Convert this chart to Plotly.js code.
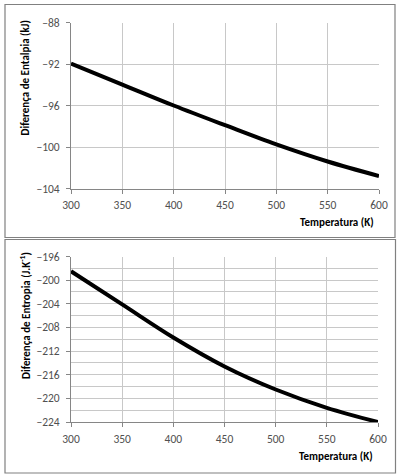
<!DOCTYPE html>
<html>
<head>
<meta charset="utf-8">
<script src="https://cdn.plot.ly/plotly-3.0.1.min.js"></script>
<style>html,body{margin:0;padding:0;background:#fff;}#chart{width:397px;height:476px;}</style>
</head>
<body>
<div id="chart"></div>
<script>
const temperatura = [300, 350, 400, 450, 500, 550, 600];
const entalpia = [-91.95, -93.98, -96.0, -97.9, -99.75, -101.4, -102.8];
const entropia = [-198.5, -204.1, -209.7, -214.6, -218.5, -221.6, -224.0];
const xTitle = 'Temperatura (K)';
const yTitleTop = 'Diferença de Entalpia (kJ)';
const yTitleBottom = 'Diferença de Entropia (J.K<sup>-1</sup>)';

const W = 397, H = 476;
const px = v => v / W;
const py = v => 1 - v / H;
const fam = 'Carlito, "Liberation Sans Narrow", "Liberation Sans", sans-serif';
const tickFont = {family: fam, size: 11.5, color: '#505050'};
const titleFont = {family: fam, size: 11, color: '#000', weight: 'bold'};
const gridC = '#c8c8c8';

const xBase = {
  range: [300, 600], dtick: 50, tick0: 300, showgrid: true, gridcolor: gridC, gridwidth: 1,
  showline: true, linecolor: '#868686', linewidth: 1, ticks: 'outside', ticklen: 4, tickcolor: '#868686',
  tickfont: tickFont, zeroline: false, fixedrange: true, ticklabelstandoff: 2
};
const yBase = {
  dtick: 4, showgrid: true, gridcolor: gridC, gridwidth: 1,
  showline: true, linecolor: '#868686', linewidth: 1, ticks: 'outside', ticklen: 4, tickcolor: '#868686',
  tickfont: tickFont, zeroline: false, fixedrange: true, ticklabelstandoff: 4
};

const traces = [
  {x: temperatura, y: entalpia, xaxis: 'x', yaxis: 'y', mode: 'lines', line: {color: '#000', width: 4, shape: 'spline'}, hoverinfo: 'skip'},
  {x: temperatura, y: entropia, xaxis: 'x2', yaxis: 'y2', mode: 'lines', line: {color: '#000', width: 4, shape: 'spline'}, hoverinfo: 'skip'}
];

const layout = {
  width: W, height: H, margin: {l: 0, r: 0, t: 0, b: 0}, showlegend: false,
  paper_bgcolor: '#fff', plot_bgcolor: '#fff',
  xaxis: Object.assign({}, xBase, {domain: [px(71), px(379)], anchor: 'y'}),
  yaxis: Object.assign({}, yBase, {range: [-104, -88], tick0: -88, domain: [py(188.5), py(22.5)], anchor: 'x'}),
  xaxis2: Object.assign({}, xBase, {domain: [px(71), px(378)], anchor: 'y2'}),
  yaxis2: Object.assign({}, yBase, {range: [-224, -196], tick0: -196, domain: [py(422), py(256.5)], anchor: 'x2',
    minor: {dtick: 2, tick0: -196, showgrid: true, gridcolor: gridC, gridwidth: 1, ticks: ''}}),
  shapes: [
    {type: 'rect', xref: 'paper', yref: 'paper', x0: px(5), x1: px(395), y0: py(237.5), y1: py(4.5), line: {color: '#808080', width: 1.2}},
    {type: 'rect', xref: 'paper', yref: 'paper', x0: px(5), x1: px(395.5), y0: py(473), y1: py(239.5), line: {color: '#808080', width: 1.2}}
  ],
  annotations: [
    {text: xTitle, xref: 'paper', yref: 'paper', x: px(337), y: py(222), showarrow: false, font: titleFont, xanchor: 'center', yanchor: 'middle'},
    {text: xTitle, xref: 'paper', yref: 'paper', x: px(336), y: py(456), showarrow: false, font: titleFont, xanchor: 'center', yanchor: 'middle'},
    {text: yTitleTop, xref: 'paper', yref: 'paper', x: px(25), y: py(78.5), showarrow: false, font: titleFont, textangle: -90, xanchor: 'center', yanchor: 'middle'},
    {text: yTitleBottom, xref: 'paper', yref: 'paper', x: px(25), y: py(316), showarrow: false, font: titleFont, textangle: -90, xanchor: 'center', yanchor: 'middle'}
  ]
};

Plotly.newPlot('chart', traces, layout, {displayModeBar: false, staticPlot: true});
</script>
</body>
</html>
